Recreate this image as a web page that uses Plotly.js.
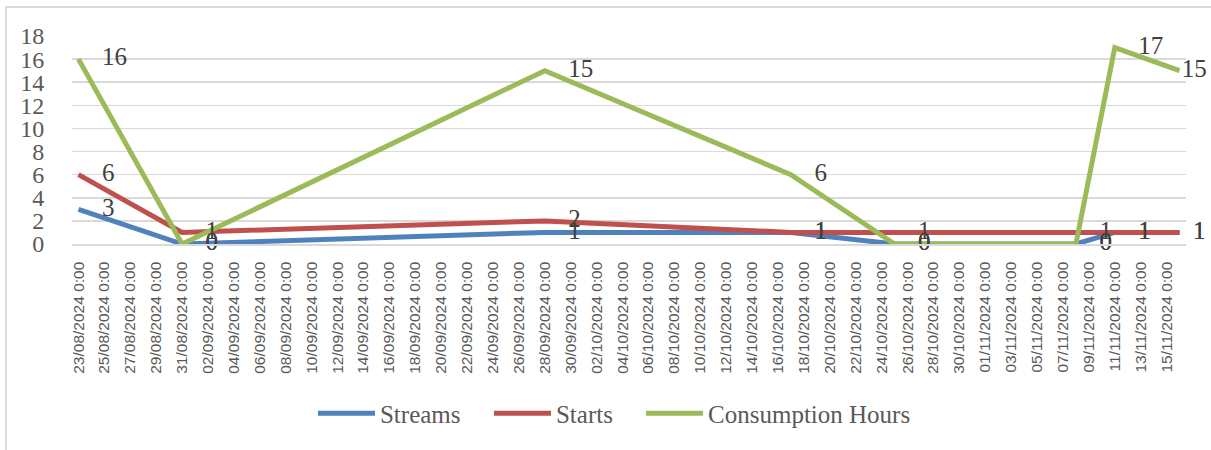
<!DOCTYPE html>
<html><head><meta charset="utf-8">
<script src="https://cdn.plot.ly/plotly-3.0.1.min.js"></script>
<style>
html,body{margin:0;padding:0;background:#fff;overflow:hidden;}
#chart{width:1211px;height:450px;}
#frame{position:absolute;left:5px;top:6px;width:1400px;height:600px;border-left:2px solid #d9d9d9;border-top:2px solid #d9d9d9;pointer-events:none;}
</style></head>
<body>
<div id="chart"></div>
<div id="frame"></div>
<script>
// ---- data ----
const dates = ['2024-08-23','2024-08-31','2024-09-28','2024-10-17','2024-10-25','2024-11-08','2024-11-11','2024-11-16'];
const streams = [3, 0, 1, 1, 0, 0, 1, 1];
const starts  = [6, 1, 2, 1, 1, 1, 1, 1];
const hours   = [16, 0, 15, 6, 0, 0, 17, 15];
const seriesNames  = ['Streams', 'Starts', 'Consumption Hours'];
const seriesColors = ['#4F81BD', '#C0504D', '#9BBB59'];
const tickLabels = [
 '23/08/2024 0:00','25/08/2024 0:00','27/08/2024 0:00','29/08/2024 0:00','31/08/2024 0:00',
 '02/09/2024 0:00','04/09/2024 0:00','06/09/2024 0:00','08/09/2024 0:00','10/09/2024 0:00',
 '12/09/2024 0:00','14/09/2024 0:00','16/09/2024 0:00','18/09/2024 0:00','20/09/2024 0:00',
 '22/09/2024 0:00','24/09/2024 0:00','26/09/2024 0:00','28/09/2024 0:00','30/09/2024 0:00',
 '02/10/2024 0:00','04/10/2024 0:00','06/10/2024 0:00','08/10/2024 0:00','10/10/2024 0:00',
 '12/10/2024 0:00','14/10/2024 0:00','16/10/2024 0:00','18/10/2024 0:00','20/10/2024 0:00',
 '22/10/2024 0:00','24/10/2024 0:00','26/10/2024 0:00','28/10/2024 0:00','30/10/2024 0:00',
 '01/11/2024 0:00','03/11/2024 0:00','05/11/2024 0:00','07/11/2024 0:00','09/11/2024 0:00',
 '11/11/2024 0:00','13/11/2024 0:00','15/11/2024 0:00'
];
const yTicks = [0, 2, 4, 6, 8, 10, 12, 14, 16, 18];

// ---- build ----
const tickVals = tickLabels.map(s => {
  const d = s.split(' ')[0].split('/');
  return d[2] + '-' + d[1] + '-' + d[0];
});
const xRange = ['2024-08-22 12:00', '2024-11-16 12:00'];
const series = [streams, starts, hours];
const legendIds = ['legend', 'legend2', 'legend3'];
const legendX = [0.2163, 0.3743, 0.5108];

const lineTraces = series.map((vals, i) => ({
  type: 'scatter', mode: 'lines', x: dates, y: vals, name: seriesNames[i],
  legend: legendIds[i],
  line: {color: seriesColors[i], width: 5},
  hoverinfo: 'x+y+name'
}));

// label offset controlled by invisible marker size (last point pulled in to stay in view)
const lastSizes = [20, 20, 2];
const labelTraces = series.map((vals, i) => ({
  type: 'scatter', mode: 'markers+text', x: dates, y: vals, showlegend: false,
  text: vals.map(String), textposition: 'middle right', cliponaxis: false,
  textfont: {family: 'Liberation Serif', size: 25, color: '#404040'},
  marker: {color: 'rgba(0,0,0,0)', opacity: 0, line: {width: 0, color: 'rgba(0,0,0,0)'},
           size: vals.map((v, k) => k === vals.length - 1 ? lastSizes[i] : 36)},
  hoverinfo: 'skip'
}));

const legendBase = {
  orientation: 'h', xanchor: 'left', y: -0.815, yanchor: 'middle',
  font: {family: 'Liberation Serif', size: 25, color: '#595959'},
  itemwidth: 57, bgcolor: 'rgba(0,0,0,0)'
};

const layout = {
  width: 1211, height: 450,
  margin: {l: 72, r: 25, t: 36, b: 206},
  paper_bgcolor: '#fff', plot_bgcolor: '#fff',
  showlegend: true,
  legend:  Object.assign({}, legendBase, {x: legendX[0]}),
  legend2: Object.assign({}, legendBase, {x: legendX[1]}),
  legend3: Object.assign({}, legendBase, {x: legendX[2]}),
  xaxis: {
    type: 'date', range: xRange, tickmode: 'array', tickvals: tickVals, ticktext: tickLabels,
    tickangle: -90, tickfont: {family: 'Liberation Sans', size: 15.5, color: '#595959'},
    ticks: 'outside', ticklen: 10, tickcolor: 'rgba(0,0,0,0)',
    showgrid: false, zeroline: false, showline: true, linecolor: '#d9d9d9', linewidth: 1.5,
    automargin: false, fixedrange: true
  },
  xaxis2: {
    type: 'date', range: xRange, overlaying: 'x', anchor: 'y', side: 'bottom',
    tickmode: 'linear', tick0: xRange[0], dtick: 2 * 86400000,
    ticks: 'outside', ticklen: 6, tickcolor: '#d9d9d9', tickwidth: 1.5,
    showticklabels: false, showgrid: false, zeroline: false, showline: false,
    automargin: false, fixedrange: true
  },
  yaxis: {
    range: [0, 18], tickmode: 'array', tickvals: yTicks,
    tickfont: {family: 'Liberation Serif', size: 24, color: '#595959'},
    ticks: 'outside', ticklen: 22, tickcolor: 'rgba(0,0,0,0)',
    showgrid: true, gridcolor: '#d9d9d9', gridwidth: 1.5,
    zeroline: false, showline: false, automargin: false, fixedrange: true
  }
};

Plotly.newPlot('chart', lineTraces.concat(labelTraces), layout, {displayModeBar: false, staticPlot: true});
</script>
</body></html>
